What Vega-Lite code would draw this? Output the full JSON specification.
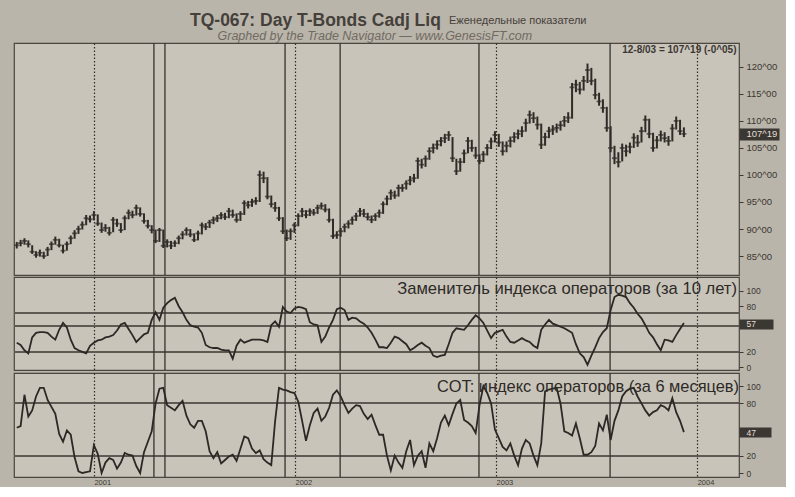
{
"$schema": "https://vega.github.io/schema/vega-lite/v6.json",
"background": "#bab5aa",
"padding": {"left": 12, "top": 11, "right": 0, "bottom": 0},
"spacing": -4,
"title": {
  "text": "Еженедельные показатели",
  "anchor": "start", "frame": "group", "dx": 435, "dy": 14, "offset": 0,
  "font": "Liberation Sans", "fontSize": 11, "fontWeight": "normal", "color": "#45403a"
},
"datasets": {
"sig": [{"d":"2001-04-20"},{"d":"2001-05-10"},{"d":"2001-12-14"},{"d":"2002-03-24"},{"d":"2002-12-01"},{"d":"2003-07-27"}],
"w": [
{"d":"2000-08-14","c":87.0,"h":87.6,"l":86.4,"a":32,"b":52},
{"d":"2000-08-21","c":87.4,"h":88.0,"l":86.8,"a":29,"b":54},
{"d":"2000-08-28","c":87.8,"h":88.3,"l":87.1,"a":22,"b":90},
{"d":"2000-09-04","c":87.2,"h":87.9,"l":86.6,"a":18,"b":65},
{"d":"2000-09-11","c":85.8,"h":87.0,"l":85.4,"a":39,"b":72},
{"d":"2000-09-18","c":85.2,"h":85.9,"l":84.7,"a":45,"b":88},
{"d":"2000-09-25","c":85.6,"h":86.2,"l":84.9,"a":46,"b":98},
{"d":"2000-10-02","c":85.0,"h":85.8,"l":84.5,"a":46,"b":98},
{"d":"2000-10-09","c":86.2,"h":86.7,"l":85.0,"a":45,"b":84},
{"d":"2000-10-16","c":87.2,"h":87.7,"l":86.1,"a":40,"b":76},
{"d":"2000-10-23","c":88.0,"h":88.6,"l":87.1,"a":36,"b":68},
{"d":"2000-10-30","c":87.0,"h":88.2,"l":86.6,"a":49,"b":45},
{"d":"2000-11-06","c":86.0,"h":87.1,"l":85.5,"a":58,"b":36},
{"d":"2000-11-13","c":87.2,"h":87.7,"l":86.0,"a":52,"b":49},
{"d":"2000-11-20","c":88.3,"h":88.8,"l":87.2,"a":36,"b":44},
{"d":"2000-11-27","c":89.2,"h":89.8,"l":88.2,"a":25,"b":18},
{"d":"2000-12-04","c":90.0,"h":90.6,"l":89.1,"a":22,"b":2},
{"d":"2000-12-11","c":90.8,"h":91.4,"l":89.9,"a":20,"b":0},
{"d":"2000-12-18","c":92.0,"h":92.6,"l":90.7,"a":18,"b":1},
{"d":"2000-12-25","c":91.8,"h":92.5,"l":91.2,"a":28,"b":2},
{"d":"2001-01-01","c":92.6,"h":93.3,"l":91.6,"a":32,"b":32},
{"d":"2001-01-08","c":91.0,"h":92.7,"l":90.6,"a":35,"b":22},
{"d":"2001-01-15","c":89.8,"h":91.2,"l":89.3,"a":36,"b":0},
{"d":"2001-01-22","c":90.2,"h":90.9,"l":89.5,"a":39,"b":12},
{"d":"2001-01-29","c":89.3,"h":90.4,"l":88.8,"a":40,"b":17},
{"d":"2001-02-05","c":91.7,"h":92.2,"l":89.4,"a":42,"b":15},
{"d":"2001-02-12","c":91.0,"h":91.9,"l":90.4,"a":48,"b":5},
{"d":"2001-02-19","c":89.8,"h":91.1,"l":89.3,"a":56,"b":12},
{"d":"2001-02-26","c":92.0,"h":92.5,"l":89.8,"a":58,"b":23},
{"d":"2001-03-05","c":93.0,"h":93.6,"l":91.8,"a":50,"b":21},
{"d":"2001-03-12","c":92.6,"h":93.4,"l":92.0,"a":42,"b":20},
{"d":"2001-03-19","c":93.9,"h":94.5,"l":92.5,"a":33,"b":8},
{"d":"2001-03-26","c":92.8,"h":94.0,"l":92.3,"a":38,"b":0},
{"d":"2001-04-02","c":91.5,"h":92.9,"l":91.0,"a":43,"b":24},
{"d":"2001-04-09","c":90.6,"h":91.7,"l":90.1,"a":45,"b":36},
{"d":"2001-04-16","c":89.8,"h":90.7,"l":89.2,"a":62,"b":48},
{"d":"2001-04-23","c":87.8,"h":89.9,"l":87.4,"a":72,"b":80},
{"d":"2001-04-30","c":89.8,"h":90.2,"l":87.6,"a":62,"b":97},
{"d":"2001-05-07","c":86.9,"h":89.9,"l":86.5,"a":78,"b":98},
{"d":"2001-05-14","c":87.6,"h":88.1,"l":86.6,"a":84,"b":78},
{"d":"2001-05-21","c":86.9,"h":87.8,"l":86.3,"a":88,"b":75},
{"d":"2001-05-28","c":87.4,"h":87.9,"l":86.7,"a":91,"b":72},
{"d":"2001-06-04","c":88.3,"h":88.8,"l":87.2,"a":80,"b":78},
{"d":"2001-06-11","c":89.0,"h":89.6,"l":88.1,"a":72,"b":83},
{"d":"2001-06-18","c":89.8,"h":90.3,"l":88.8,"a":62,"b":66},
{"d":"2001-06-25","c":89.0,"h":90.0,"l":88.5,"a":55,"b":56},
{"d":"2001-07-02","c":88.0,"h":89.2,"l":87.6,"a":53,"b":52},
{"d":"2001-07-09","c":89.2,"h":89.7,"l":87.9,"a":52,"b":60},
{"d":"2001-07-16","c":90.7,"h":91.2,"l":89.0,"a":45,"b":60},
{"d":"2001-07-23","c":90.4,"h":91.1,"l":89.8,"a":29,"b":48},
{"d":"2001-07-30","c":91.2,"h":91.7,"l":90.2,"a":26,"b":25},
{"d":"2001-08-06","c":91.7,"h":92.3,"l":90.9,"a":25,"b":17},
{"d":"2001-08-13","c":92.0,"h":92.6,"l":91.3,"a":25,"b":24},
{"d":"2001-08-20","c":92.6,"h":93.1,"l":91.8,"a":23,"b":11},
{"d":"2001-08-27","c":92.2,"h":93.0,"l":91.7,"a":22,"b":15},
{"d":"2001-09-03","c":93.3,"h":93.9,"l":92.0,"a":22,"b":19},
{"d":"2001-09-10","c":92.6,"h":93.6,"l":92.1,"a":11,"b":21},
{"d":"2001-09-17","c":91.7,"h":92.9,"l":91.2,"a":28,"b":14},
{"d":"2001-09-24","c":92.8,"h":93.3,"l":91.5,"a":36,"b":28},
{"d":"2001-10-01","c":94.8,"h":95.3,"l":92.6,"a":32,"b":42},
{"d":"2001-10-08","c":94.4,"h":95.2,"l":93.8,"a":34,"b":40},
{"d":"2001-10-15","c":95.0,"h":95.6,"l":94.1,"a":36,"b":28},
{"d":"2001-10-22","c":95.2,"h":95.9,"l":94.5,"a":36,"b":23},
{"d":"2001-10-29","c":100.0,"h":100.8,"l":95.0,"a":36,"b":26},
{"d":"2001-11-05","c":99.4,"h":100.6,"l":98.5,"a":35,"b":16},
{"d":"2001-11-12","c":96.0,"h":99.6,"l":95.5,"a":33,"b":12},
{"d":"2001-11-19","c":94.6,"h":96.2,"l":94.0,"a":55,"b":9},
{"d":"2001-11-26","c":93.9,"h":95.0,"l":93.2,"a":60,"b":60},
{"d":"2001-12-03","c":92.0,"h":94.1,"l":91.5,"a":53,"b":98},
{"d":"2001-12-10","c":89.6,"h":92.2,"l":89.1,"a":79,"b":96},
{"d":"2001-12-17","c":88.3,"h":89.9,"l":87.8,"a":73,"b":95},
{"d":"2001-12-24","c":89.6,"h":90.1,"l":88.0,"a":71,"b":93},
{"d":"2001-12-31","c":90.7,"h":91.2,"l":89.3,"a":77,"b":92},
{"d":"2002-01-07","c":92.4,"h":92.9,"l":90.5,"a":79,"b":82},
{"d":"2002-01-14","c":93.3,"h":93.9,"l":92.2,"a":78,"b":60},
{"d":"2002-01-21","c":92.6,"h":93.5,"l":92.0,"a":76,"b":37},
{"d":"2002-01-28","c":93.3,"h":93.8,"l":92.4,"a":59,"b":55},
{"d":"2002-02-04","c":93.0,"h":93.7,"l":92.5,"a":56,"b":69},
{"d":"2002-02-11","c":93.9,"h":94.5,"l":92.8,"a":55,"b":74},
{"d":"2002-02-18","c":94.3,"h":94.9,"l":93.6,"a":33,"b":60},
{"d":"2002-02-25","c":93.6,"h":94.6,"l":93.1,"a":40,"b":65},
{"d":"2002-03-04","c":91.7,"h":93.8,"l":91.2,"a":52,"b":75},
{"d":"2002-03-11","c":88.7,"h":91.9,"l":88.2,"a":62,"b":90},
{"d":"2002-03-18","c":88.9,"h":89.6,"l":88.2,"a":76,"b":95},
{"d":"2002-03-25","c":89.6,"h":90.2,"l":88.6,"a":78,"b":88},
{"d":"2002-04-01","c":90.4,"h":91.0,"l":89.4,"a":75,"b":78},
{"d":"2002-04-08","c":91.0,"h":91.6,"l":90.1,"a":62,"b":69},
{"d":"2002-04-15","c":91.7,"h":92.3,"l":90.8,"a":65,"b":74},
{"d":"2002-04-22","c":92.4,"h":93.0,"l":91.5,"a":64,"b":78},
{"d":"2002-04-29","c":93.3,"h":93.9,"l":92.3,"a":60,"b":77},
{"d":"2002-05-06","c":92.8,"h":93.7,"l":92.2,"a":57,"b":68},
{"d":"2002-05-13","c":92.2,"h":93.0,"l":91.6,"a":52,"b":62},
{"d":"2002-05-20","c":91.7,"h":92.5,"l":91.1,"a":45,"b":67},
{"d":"2002-05-27","c":92.4,"h":92.9,"l":91.5,"a":36,"b":55},
{"d":"2002-06-03","c":93.0,"h":93.6,"l":92.1,"a":26,"b":44},
{"d":"2002-06-10","c":94.6,"h":95.1,"l":92.8,"a":26,"b":44},
{"d":"2002-06-17","c":95.6,"h":96.2,"l":94.4,"a":25,"b":20},
{"d":"2002-06-24","c":96.7,"h":97.3,"l":95.4,"a":32,"b":3},
{"d":"2002-07-01","c":96.2,"h":97.1,"l":95.6,"a":40,"b":20},
{"d":"2002-07-08","c":97.6,"h":98.2,"l":96.0,"a":38,"b":12},
{"d":"2002-07-15","c":97.6,"h":98.3,"l":96.9,"a":34,"b":6},
{"d":"2002-07-22","c":98.4,"h":99.0,"l":97.3,"a":30,"b":25},
{"d":"2002-07-29","c":99.0,"h":99.8,"l":98.1,"a":22,"b":38},
{"d":"2002-08-05","c":99.4,"h":100.2,"l":98.6,"a":25,"b":9},
{"d":"2002-08-12","c":102.6,"h":103.2,"l":99.3,"a":29,"b":20},
{"d":"2002-08-19","c":101.9,"h":103.0,"l":101.2,"a":32,"b":25},
{"d":"2002-08-26","c":103.0,"h":103.6,"l":101.5,"a":28,"b":6},
{"d":"2002-09-02","c":104.4,"h":105.1,"l":102.8,"a":25,"b":34},
{"d":"2002-09-09","c":105.0,"h":105.8,"l":104.0,"a":15,"b":25},
{"d":"2002-09-16","c":105.6,"h":106.4,"l":104.7,"a":13,"b":40},
{"d":"2002-09-23","c":106.3,"h":107.0,"l":105.3,"a":15,"b":58},
{"d":"2002-09-30","c":106.8,"h":107.6,"l":105.9,"a":16,"b":66},
{"d":"2002-10-07","c":107.4,"h":108.1,"l":106.3,"a":30,"b":55},
{"d":"2002-10-14","c":103.1,"h":107.0,"l":102.4,"a":45,"b":68},
{"d":"2002-10-21","c":100.7,"h":103.0,"l":100.0,"a":51,"b":80},
{"d":"2002-10-28","c":102.4,"h":103.1,"l":100.6,"a":50,"b":84},
{"d":"2002-11-04","c":104.0,"h":104.7,"l":102.2,"a":49,"b":61},
{"d":"2002-11-11","c":106.3,"h":107.0,"l":104.0,"a":55,"b":58},
{"d":"2002-11-18","c":105.0,"h":106.5,"l":104.3,"a":62,"b":54},
{"d":"2002-11-25","c":103.6,"h":105.2,"l":103.0,"a":68,"b":46},
{"d":"2002-12-02","c":102.6,"h":103.8,"l":102.0,"a":64,"b":78},
{"d":"2002-12-09","c":103.8,"h":104.4,"l":102.4,"a":58,"b":100},
{"d":"2002-12-16","c":105.0,"h":105.7,"l":103.6,"a":48,"b":92},
{"d":"2002-12-23","c":106.2,"h":106.9,"l":104.8,"a":38,"b":80},
{"d":"2002-12-30","c":107.4,"h":108.1,"l":106.0,"a":45,"b":50},
{"d":"2003-01-06","c":106.0,"h":107.6,"l":105.2,"a":47,"b":40},
{"d":"2003-01-13","c":104.4,"h":106.2,"l":103.6,"a":49,"b":30},
{"d":"2003-01-20","c":105.4,"h":106.2,"l":104.2,"a":40,"b":26},
{"d":"2003-01-27","c":106.3,"h":107.1,"l":105.1,"a":33,"b":34},
{"d":"2003-02-03","c":107.0,"h":107.9,"l":106.0,"a":32,"b":20},
{"d":"2003-02-10","c":107.6,"h":108.4,"l":106.6,"a":35,"b":9},
{"d":"2003-02-17","c":108.1,"h":109.0,"l":107.0,"a":38,"b":28},
{"d":"2003-02-24","c":109.6,"h":110.4,"l":108.0,"a":35,"b":38},
{"d":"2003-03-03","c":111.1,"h":111.9,"l":109.5,"a":33,"b":34},
{"d":"2003-03-10","c":110.5,"h":111.6,"l":109.6,"a":28,"b":20},
{"d":"2003-03-17","c":109.3,"h":110.8,"l":108.4,"a":25,"b":9},
{"d":"2003-03-24","c":105.6,"h":109.5,"l":104.8,"a":49,"b":34},
{"d":"2003-03-31","c":107.0,"h":107.8,"l":105.4,"a":56,"b":94},
{"d":"2003-04-07","c":108.1,"h":108.9,"l":106.8,"a":62,"b":96},
{"d":"2003-04-14","c":108.4,"h":109.2,"l":107.4,"a":57,"b":97},
{"d":"2003-04-21","c":108.7,"h":109.5,"l":107.8,"a":55,"b":98},
{"d":"2003-04-28","c":109.2,"h":110.0,"l":108.2,"a":53,"b":80},
{"d":"2003-05-05","c":110.0,"h":110.9,"l":108.9,"a":51,"b":48},
{"d":"2003-05-12","c":110.6,"h":111.6,"l":109.6,"a":48,"b":46},
{"d":"2003-05-19","c":116.2,"h":117.0,"l":110.4,"a":45,"b":43},
{"d":"2003-05-26","c":116.7,"h":117.6,"l":115.3,"a":30,"b":57},
{"d":"2003-06-02","c":115.8,"h":117.2,"l":114.9,"a":18,"b":40},
{"d":"2003-06-09","c":117.4,"h":118.3,"l":115.6,"a":13,"b":21},
{"d":"2003-06-16","c":119.4,"h":120.6,"l":117.0,"a":3,"b":21},
{"d":"2003-06-23","c":117.4,"h":119.8,"l":116.6,"a":15,"b":24},
{"d":"2003-06-30","c":114.8,"h":117.8,"l":114.0,"a":26,"b":31},
{"d":"2003-07-07","c":113.6,"h":115.2,"l":112.8,"a":38,"b":57},
{"d":"2003-07-14","c":112.4,"h":114.0,"l":111.5,"a":46,"b":49},
{"d":"2003-07-21","c":108.7,"h":112.6,"l":108.0,"a":51,"b":67},
{"d":"2003-07-28","c":105.0,"h":109.0,"l":104.2,"a":75,"b":38},
{"d":"2003-08-04","c":103.1,"h":105.4,"l":102.0,"a":92,"b":60},
{"d":"2003-08-11","c":102.4,"h":104.2,"l":101.4,"a":95,"b":72},
{"d":"2003-08-18","c":105.0,"h":105.8,"l":102.5,"a":94,"b":88},
{"d":"2003-08-25","c":104.4,"h":105.6,"l":103.4,"a":92,"b":94},
{"d":"2003-09-01","c":105.2,"h":106.0,"l":104.0,"a":84,"b":97},
{"d":"2003-09-08","c":106.9,"h":107.7,"l":105.0,"a":78,"b":98},
{"d":"2003-09-15","c":106.0,"h":107.4,"l":105.2,"a":70,"b":88},
{"d":"2003-09-22","c":108.1,"h":108.9,"l":106.0,"a":64,"b":80},
{"d":"2003-09-29","c":110.2,"h":111.0,"l":107.9,"a":55,"b":72},
{"d":"2003-10-06","c":107.6,"h":110.4,"l":106.8,"a":45,"b":66},
{"d":"2003-10-13","c":105.0,"h":107.8,"l":104.3,"a":39,"b":70},
{"d":"2003-10-20","c":106.4,"h":107.2,"l":104.9,"a":30,"b":72},
{"d":"2003-10-27","c":107.4,"h":108.2,"l":106.2,"a":22,"b":78},
{"d":"2003-11-03","c":106.8,"h":107.9,"l":106.0,"a":36,"b":76},
{"d":"2003-11-10","c":106.3,"h":107.2,"l":105.4,"a":35,"b":72},
{"d":"2003-11-17","c":108.6,"h":109.4,"l":106.2,"a":33,"b":86},
{"d":"2003-11-24","c":110.0,"h":110.8,"l":108.4,"a":42,"b":70},
{"d":"2003-12-01","c":108.1,"h":110.2,"l":107.4,"a":50,"b":60},
{"d":"2003-12-08","c":107.6,"h":108.8,"l":107.0,"a":58,"b":47}
]
},
"vconcat": [
{
  "width": 725, "height": 232,
  "title": {"text": "TQ-067:  Day T-Bonds Cadj Liq",
    "subtitle": "\u200b\u2003\u2003\u2009Graphed by the Trade Navigator  —  www.GenesisFT.com",
    "anchor": "start", "frame": "group", "dx": 176, "offset": 0,
    "font": "Liberation Sans", "fontSize": 17.5, "fontWeight": "bold", "color": "#45403a",
    "subtitleFont": "Liberation Sans", "subtitleFontSize": 12.5, "subtitleFontStyle": "italic", "subtitleColor": "#706a62", "subtitlePadding": 0},
  "data": {"name": "w"},
  "layer": [
    {"data": {"name": "sig"}, "mark": {"type": "rule", "color": "#36322e", "strokeWidth": 1.3},
     "encoding": {"x": {"field": "d", "type": "temporal",
        "scale": {"domain": [{"year": 2000, "month": 8, "date": 9}, {"year": 2004, "month": 3, "date": 17}]},
        "axis": {"orient": "bottom", "labels": false, "ticks": false, "domain": false, "title": null, "labelPadding": 0, "titlePadding": 0, "minExtent": 0, "maxExtent": 0, "offset": 0, "grid": true, "gridDash": [1.5, 2], "gridColor": "#2f2b27", "gridWidth": 1.2, "tickCount": {"interval": "year", "step": 1}}}}},
    {"mark": {"type": "rule", "color": "#2f2b27", "strokeWidth": 2},
     "encoding": {"x": {"field": "d", "type": "temporal"},
        "y": {"field": "l", "type": "quantitative", "scale": {"domain": [81.5, 124.4], "nice": false, "zero": false}},
        "y2": {"field": "h"}}},
    {"mark": {"type": "tick", "orient": "horizontal", "size": 5, "thickness": 1.8, "color": "#2f2b27"},
     "encoding": {"x": {"field": "d", "type": "temporal"},
        "y": {"field": "c", "type": "quantitative",
          "axis": {"orient": "right", "values": [85, 90, 95, 100, 105, 107.6, 110, 115, 120], "labelExpr": "datum.value == 107.6 ? '107^19' : datum.value + '^00'", "grid": false, "domain": false, "labelFontSize": 9.5, "labelOverlap": false, "labelSeparation": 0,
            "tickSize": {"condition": {"test": "datum.value == 107.6", "value": 40}, "value": 4},
            "tickWidth": {"condition": {"test": "datum.value == 107.6", "value": 12}, "value": 1},
            "labelPadding": {"condition": {"test": "datum.value == 107.6", "value": -33}, "value": 3},
            "labelColor": {"condition": {"test": "datum.value == 107.6", "value": "#e4dfd4"}, "value": "#3b3733"},
            "title": "12-8/03 = 107^19 (-0^05)", "titleAngle": 0, "titleAlign": "right", "titleBaseline": "middle", "titleX": -3, "titleY": 6, "titleFontSize": 10, "titleFontWeight": "bold", "titleColor": "#3b3733"}}}}
  ]
},
{
  "width": 725, "height": 93,
  "title": {"text": "Заменитель индекса операторов (за 10 лет)", "anchor": "end", "frame": "group", "offset": -21, "dx": -2, "font": "Liberation Sans", "fontSize": 16.6, "fontWeight": "normal", "color": "#2d2a27"},
  "data": {"name": "w"},
  "layer": [
    {"mark": {"type": "rule", "color": "#5f5a53", "strokeWidth": 1.2}, "encoding": {"y": {"datum": 71}}},
    {"mark": {"type": "rule", "color": "#5f5a53", "strokeWidth": 1.2}, "encoding": {"y": {"datum": 54}}},
    {"mark": {"type": "rule", "color": "#5f5a53", "strokeWidth": 1.2}, "encoding": {"y": {"datum": 20}}},
    {"data": {"name": "sig"}, "mark": {"type": "rule", "color": "#36322e", "strokeWidth": 1.3},
     "encoding": {"x": {"field": "d", "type": "temporal",
        "scale": {"domain": [{"year": 2000, "month": 8, "date": 9}, {"year": 2004, "month": 3, "date": 17}]},
        "axis": {"orient": "bottom", "labels": false, "ticks": false, "domain": false, "title": null, "labelPadding": 0, "titlePadding": 0, "minExtent": 0, "maxExtent": 0, "offset": 0, "grid": true, "gridDash": [1.5, 2], "gridColor": "#2f2b27", "gridWidth": 1.2, "tickCount": {"interval": "year", "step": 1}}}}},
    {"mark": {"type": "line", "color": "#2b2825", "strokeWidth": 1.8},
     "encoding": {"x": {"field": "d", "type": "temporal"},
        "y": {"field": "a", "type": "quantitative", "scale": {"domain": [-3.9, 118.4], "nice": false, "zero": false},
          "axis": {"orient": "right", "values": [0, 20, 57, 80, 100], "grid": false, "domain": false, "labelFontSize": 8.5, "labelOverlap": false, "title": null,
            "tickSize": {"condition": {"test": "datum.value == 57", "value": 34}, "value": 4},
            "tickWidth": {"condition": {"test": "datum.value == 57", "value": 10}, "value": 1},
            "labelPadding": {"condition": {"test": "datum.value == 57", "value": -27}, "value": 3},
            "labelColor": {"condition": {"test": "datum.value == 57", "value": "#e4dfd4"}, "value": "#3b3733"}}}}}
  ]
},
{
  "width": 725, "height": 104,
  "title": {"text": "COT: индекс операторов (за 6 месяцев)", "anchor": "end", "frame": "group", "offset": -23, "dx": 0, "font": "Liberation Sans", "fontSize": 16.4, "fontWeight": "normal", "color": "#2d2a27"},
  "data": {"name": "w"},
  "layer": [
    {"mark": {"type": "rule", "color": "#5f5a53", "strokeWidth": 1.2}, "encoding": {"y": {"datum": 80}}},
    {"mark": {"type": "rule", "color": "#5f5a53", "strokeWidth": 1.2}, "encoding": {"y": {"datum": 20}}},
    {"data": {"name": "sig"}, "mark": {"type": "rule", "color": "#36322e", "strokeWidth": 1.3},
     "encoding": {"x": {"field": "d", "type": "temporal",
        "scale": {"domain": [{"year": 2000, "month": 8, "date": 9}, {"year": 2004, "month": 3, "date": 17}]},
        "axis": {"orient": "bottom", "labels": true, "format": "%Y", "labelAlign": "left", "labelFontSize": 7.5, "labelPadding": 1, "ticks": false, "domain": false, "title": null, "grid": true, "gridDash": [1.5, 2], "gridColor": "#2f2b27", "gridWidth": 1.2, "tickCount": {"interval": "year", "step": 1}}}}},
    {"mark": {"type": "line", "color": "#2b2825", "strokeWidth": 1.8},
     "encoding": {"x": {"field": "d", "type": "temporal"},
        "y": {"field": "b", "type": "quantitative", "scale": {"domain": [-4.6, 115], "nice": false, "zero": false},
          "axis": {"orient": "right", "values": [0, 20, 47, 80, 100], "grid": false, "domain": false, "labelFontSize": 8.5, "labelOverlap": false, "title": null,
            "tickSize": {"condition": {"test": "datum.value == 47", "value": 32}, "value": 4},
            "tickWidth": {"condition": {"test": "datum.value == 47", "value": 10}, "value": 1},
            "labelPadding": {"condition": {"test": "datum.value == 47", "value": -25}, "value": 3},
            "labelColor": {"condition": {"test": "datum.value == 47", "value": "#e4dfd4"}, "value": "#3b3733"}}}}}
  ]
}
],
"config": {
  "font": "Liberation Sans",
  "view": {"fill": "#c9c4b9", "stroke": "#4b4640", "strokeWidth": 1.2},
  "axis": {"labelFont": "Liberation Sans", "labelColor": "#3b3733", "tickColor": "#3b3733", "titleFont": "Liberation Sans", "labelOverlap": false},
  "axisY": {"labelOverlap": false, "tickCount": 20}
}
}
